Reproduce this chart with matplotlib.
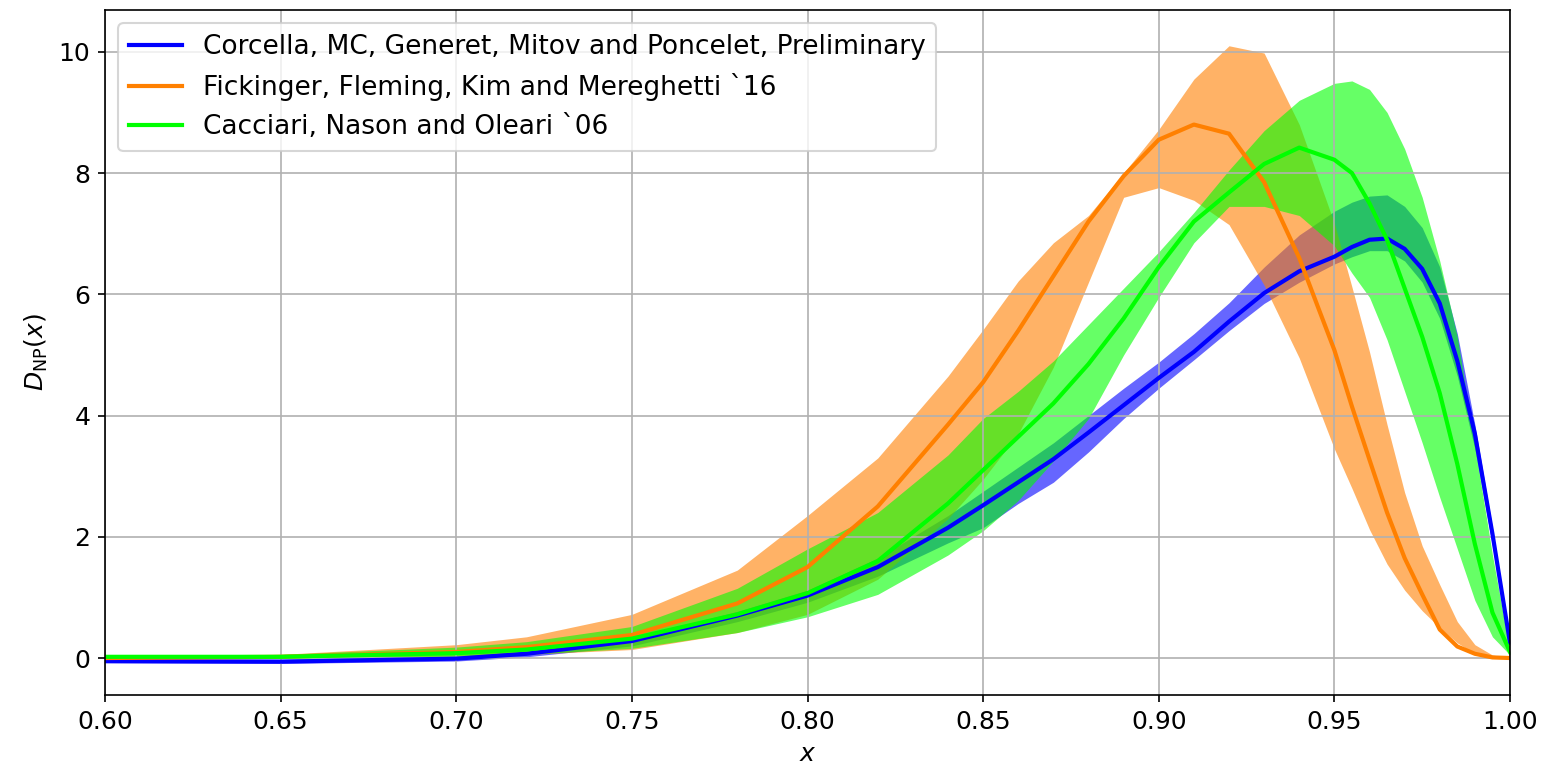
import numpy as np
import matplotlib
matplotlib.use("Agg")
import matplotlib.pyplot as plt

plt.rcParams['font.size'] = 12

x = [0.60, 0.65, 0.70, 0.72, 0.75, 0.78, 0.80, 0.82, 0.84, 0.85, 0.86, 0.87, 0.88, 0.89, 0.90,
     0.91, 0.92, 0.93, 0.94, 0.95, 0.955, 0.96, 0.965, 0.97, 0.975, 0.98, 0.985, 0.99, 0.995, 1.00]

# Corcella, MC, Generet, Mitov and Poncelet
corcella = [-0.05, -0.06, -0.01, 0.07, 0.28, 0.70, 1.03, 1.50, 2.15, 2.52, 2.90, 3.28, 3.72, 4.17, 4.62,
            5.05, 5.55, 6.02, 6.38, 6.62, 6.78, 6.90, 6.92, 6.75, 6.42, 5.85, 4.90, 3.70, 2.05, 0.25]
corcella_hi = [-0.02, -0.02, 0.03, 0.11, 0.33, 0.77, 1.12, 1.65, 2.35, 2.75, 3.15, 3.55, 4.00, 4.45, 4.88,
               5.35, 5.86, 6.45, 6.98, 7.37, 7.52, 7.62, 7.64, 7.45, 7.10, 6.45, 5.35, 3.85, 2.15, 0.28]
corcella_lo = [-0.08, -0.09, -0.05, 0.02, 0.20, 0.60, 0.92, 1.35, 1.90, 2.15, 2.55, 2.90, 3.40, 3.95, 4.45,
               4.92, 5.40, 5.85, 6.20, 6.50, 6.62, 6.72, 6.72, 6.55, 6.20, 5.60, 4.65, 3.45, 1.85, 0.20]

# Fickinger, Fleming, Kim and Mereghetti
fickinger = [0.00, 0.02, 0.10, 0.18, 0.38, 0.90, 1.50, 2.50, 3.85, 4.55, 5.40, 6.30, 7.20, 7.95, 8.55,
             8.80, 8.65, 7.85, 6.60, 5.08, 4.15, 3.27, 2.40, 1.65, 1.05, 0.47, 0.19, 0.07, 0.01, 0.00]
fickinger_hi = [0.02, 0.06, 0.22, 0.35, 0.72, 1.45, 2.35, 3.30, 4.65, 5.42, 6.22, 6.85, 7.30, 8.00, 8.72,
                9.55, 10.10, 9.98, 8.80, 7.17, 6.12, 5.05, 3.85, 2.73, 1.85, 1.21, 0.60, 0.22, 0.05, 0.00]
fickinger_lo = [-0.01, 0.00, 0.03, 0.06, 0.14, 0.42, 0.72, 1.30, 2.30, 2.95, 3.70, 4.80, 6.20, 7.60, 7.76,
                7.55, 7.15, 6.15, 4.95, 3.45, 2.80, 2.12, 1.55, 1.12, 0.78, 0.50, 0.25, 0.07, 0.01, 0.00]

# Cacciari, Nason and Oleari
cacciari = [0.02, 0.02, 0.08, 0.14, 0.32, 0.72, 1.07, 1.60, 2.55, 3.10, 3.65, 4.20, 4.85, 5.60, 6.45,
            7.20, 7.68, 8.15, 8.42, 8.22, 8.00, 7.50, 6.90, 6.10, 5.30, 4.37, 3.20, 1.88, 0.75, 0.10]
cacciari_hi = [0.04, 0.06, 0.18, 0.27, 0.52, 1.15, 1.80, 2.40, 3.35, 3.95, 4.40, 4.90, 5.50, 6.10, 6.70,
               7.35, 8.05, 8.70, 9.20, 9.48, 9.52, 9.38, 9.00, 8.40, 7.60, 6.55, 5.30, 3.50, 1.70, 0.10]
cacciari_lo = [0.00, 0.00, 0.03, 0.06, 0.16, 0.42, 0.68, 1.05, 1.70, 2.10, 2.60, 3.25, 3.95, 5.00, 5.95,
               6.85, 7.45, 7.45, 7.30, 6.80, 6.35, 5.95, 5.25, 4.40, 3.55, 2.65, 1.80, 0.95, 0.35, 0.05]

labels = ["Corcella, MC, Generet, Mitov and Poncelet, Preliminary",
          "Fickinger, Fleming, Kim and Mereghetti `16",
          "Cacciari, Nason and Oleari `06"]
colors = ["#0000ff", "#ff8000", "#00ff00"]

fig = plt.figure(figsize=(1547 / 150, 772 / 150), dpi=150)
ax = fig.add_axes([105 / 1547, 1 - 695 / 772, (1510 - 105) / 1547, (695 - 10) / 772])

series = [(corcella, corcella_lo, corcella_hi),
          (fickinger, fickinger_lo, fickinger_hi),
          (cacciari, cacciari_lo, cacciari_hi)]

# bands first, lines on top
for (mid, lo, hi), c in zip(series, colors):
    ax.fill_between(x, lo, hi, color=c, alpha=0.6, linewidth=0)
for (mid, lo, hi), c, lab in zip(series, colors, labels):
    ax.plot(x, mid, color=c, lw=2, label=lab)

ax.set_xlim(0.6, 1.0)
ax.set_ylim(-0.61, 10.69)
ax.set_xlabel("$x$")
ax.set_ylabel(r"$D_{\mathrm{NP}}(x)$")
ax.grid(True)
ax.legend(loc="upper left", fontsize=12.7)

fig.savefig("out.png", dpi=150)
